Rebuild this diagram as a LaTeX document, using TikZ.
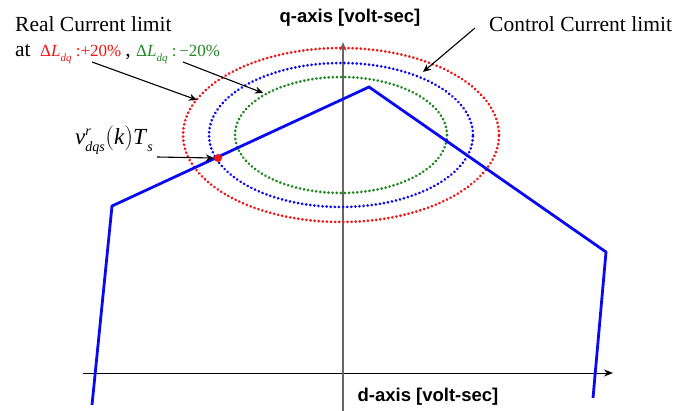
\documentclass[tikz,border=0pt]{standalone}
\usepackage{fontspec}
\setmainfont{Liberation Serif}
\setsansfont{Liberation Sans}
\usetikzlibrary{arrows.meta}
\definecolor{cred}{RGB}{240,20,20}
\definecolor{cblue}{RGB}{10,10,240}
\definecolor{cgreen}{RGB}{30,135,30}
\newcommand{\dL}{Δ\textit{L}\raisebox{-0.25em}{\fontsize{11}{12}\selectfont\textit{dq}}}
\tikzset{
  limitline/.style={line width=3pt, line cap=round, dash pattern=on 0.01pt off 4.1pt},
  pointer/.style={-{Stealth[length=8pt,width=7pt]}, line width=1.1pt, black},
  axislabel/.style={font=\sffamily\bfseries\fontsize{18.5}{22}\selectfont, inner sep=0pt},
  serlabel/.style={font=\fontsize{21.5}{25}\selectfont, inner sep=0pt, anchor=base west},
  colorlabel/.style={font=\fontsize{17}{20}\selectfont, inner sep=0pt, anchor=base west},
}
\begin{document}
\begin{tikzpicture}[x=1pt,y=-1pt]
\useasboundingbox (0,0) rectangle (684,411);
% axes
\coordinate (dstart) at (83,373);
\coordinate (dend) at (613,373);
\coordinate (qstart) at (343,411);
\coordinate (qend) at (343,42);
\draw[line width=1pt, -{Stealth[length=9pt,width=7pt]}] (dstart) -- (dend);
\draw[line width=1.2pt, black!60, -{Stealth[length=9pt,width=7pt]}] (qstart) -- (qend);
\node[axislabel] (qlab) at (350,18) {q-axis [volt-sec]};
\node[axislabel] (dlab) at (428,397) {d-axis [volt-sec]};
% ellipses
\coordinate (ctr) at (341,135);
\draw[limitline, cred] (ctr) ellipse [x radius=158pt, y radius=87pt];
\draw[limitline, cblue] (ctr) ellipse [x radius=132pt, y radius=72pt];
\draw[limitline, cgreen] (ctr) ellipse [x radius=106pt, y radius=58pt];
% boundary
\coordinate (p1) at (92,405);
\coordinate (p2) at (112,206);
\coordinate (p3) at (369,87);
\coordinate (p4) at (606,252);
\coordinate (p5) at (593,398);
\draw[cblue, line width=2.8pt, line join=miter] (p1) -- (p2) -- (p3) -- (p4) -- (p5);
% point
\node[circle, fill=cred, inner sep=0pt, minimum size=8pt] (pt) at (218,158) {};
% labels
\node[serlabel] (real) at (15,32) {Real Current limit};
\node[serlabel] (at) at (15,57) {at};
\node[colorlabel, text=cred] (plus) at (40,57) {\dL\ :+20\%};
\node[serlabel] (comma) at (plus.base east) {\,,};
\node[colorlabel, text=cgreen] (minus) at (136,57) {\dL\ :\,−20\%};
\node[serlabel] (ctrl) at (489,32) {Control Current limit};
\node[inner sep=0pt, anchor=base west, font=\fontsize{23}{27}\selectfont] (vlab) at (75,145)
  {\textit{v}$^{\textit{\fontsize{14}{14}\selectfont r}}_{\textit{\fontsize{14}{14}\selectfont dqs}}\Bigl(\textit{k}\Bigr)$\textit{T}\raisebox{-0.3em}{\fontsize{14}{14}\selectfont\textit{s}}};
% pointers
\coordinate (a1s) at (92,62);
\coordinate (a1e) at (197,100);
\coordinate (a2s) at (183,62);
\coordinate (a2e) at (263,93);
\coordinate (a3s) at (475,28);
\coordinate (a3e) at (423,72);
\coordinate (a4s) at (157,157);
\draw[pointer] (a1s) -- (a1e);
\draw[pointer] (a2s) -- (a2e);
\draw[pointer] (a3s) -- (a3e);
\draw[pointer] (a4s) -- (pt.west);
\end{tikzpicture}
\end{document}
